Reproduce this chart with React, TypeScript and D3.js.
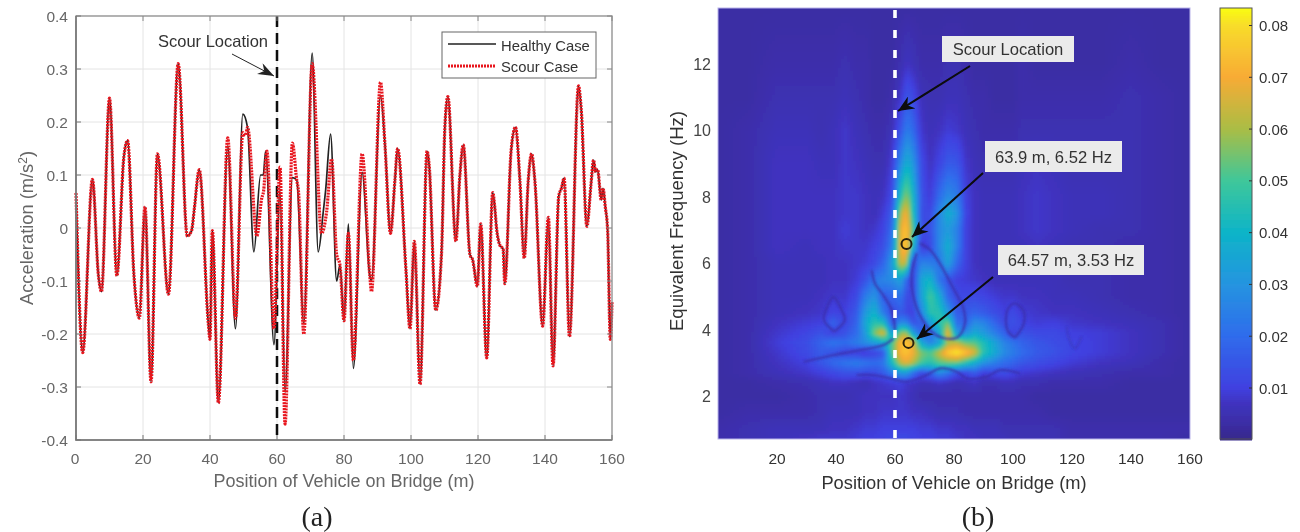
import * as d3 from "d3"

// panel (a): curve vertices, [position m, acceleration]
const sharedStart: [number, number][] = [
  [0, .066], [2, -.235], [4.9, .092], [6.7, -.09], [7.6, -.12], [10, .245], [12.2, -.09], [14.3, .135], [15.4, .165],
  [17.3, -.09], [18.9, -.17], [20.6, .04], [22.4, -.29], [24.3, .14], [27.6, -.125], [30.5, .31], [33.2, -.015],
  [34.5, -.005], [35.3, .035], [36.8, .11], [39.5, -.18], [40, -.21], [40.7, -.005], [42.5, -.33],
]
const healthyMid: [number, number][] = [
  [45.3, .155], [47.6, -.19], [49.8, .215], [51.2, .19], [53.1, -.045], [55.1, .1], [55.9, .1], [56.6, .145], [59.1, -.22],
  [60.9, .07], [62.4, -.31], [64.6, .095], [65.9, .09], [68, -.18], [70.5, .33], [72.3, -.045], [73.8, .03], [74.5, .07],
  [76, .177], [77.8, -.1], [78.8, -.07], [80, -.175], [81.3, .008], [82.8, -.265], [85.4, .105], [87.7, -.09], [88.2, -.1], [90.9, .25],
]
const scourMid: [number, number][] = [
  [45.3, .17], [47.6, -.17], [49.8, .18], [50.6, .175], [51.2, .19], [54, -.015], [55.4, .055], [56, .07], [57, .145], [59.1, -.19],
  [60.9, .115], [62.4, -.37], [64.6, .16], [65.9, .09], [66.4, .07], [68, -.2], [70.5, .31], [73.3, -.01], [74.8, .03],
  [76.3, .13], [77.8, -.05], [78.8, -.07], [80, -.175], [81.3, -.01], [82.8, -.25], [85.4, .14], [87.7, -.09], [88.2, -.12], [90.9, .275],
]
const sharedEnd: [number, number][] = [
  [92.2, .16], [93.9, -.01], [95.2, .09], [96, .15], [98.5, -.08], [99.7, -.19], [101, -.025], [102.7, -.295], [104.8, .145],
  [105.4, .12], [107.4, -.155], [109.1, -.05], [110.1, .188], [111, .248], [113.4, -.025], [114.6, .1], [115.6, .157], [117.6, -.05],
  [118.4, -.06], [119.8, -.11], [120.8, .008], [122.6, -.245], [124.4, .067], [125, .04], [125.5, .002], [126.5, -.032], [127.5, -.04],
  [128, -.105], [129.9, .147], [131.2, .19], [132.5, .09], [133.8, -.057], [135, .09], [136, .14], [137, .087], [139.3, -.185],
  [141, .02], [142.4, -.26], [144.1, .06], [144.9, .075], [145.7, .094], [147.3, -.205], [150, .268], [150.8, .225], [152.5, .003],
  [153.7, .08], [154.5, .128], [155.1, .106], [155.7, .11], [156.8, .053], [157.3, .075], [158, .04], [158.7, -.005], [159.5, -.21], [160, -.14],
]
const healthy = [...sharedStart, ...healthyMid, ...sharedEnd]
const scour = [...sharedStart, ...scourMid, ...sharedEnd]

const accTicks = [-0.4, -0.3, -0.2, -0.1, 0, 0.1, 0.2, 0.3, 0.4]
const posTicksA = [0, 20, 40, 60, 80, 100, 120, 140, 160]
const posTicksB = [20, 40, 60, 80, 100, 120, 140, 160]
const freqTicks = [2, 4, 6, 8, 10, 12]
const barTicks = [0.01, 0.02, 0.03, 0.04, 0.05, 0.06, 0.07, 0.08]

// panel (b): scalogram magnitude x1000 read by eye on a coarse grid
const gridPos = [0, 10, 20, 30, 35, 39, 43, 47, 50, 53, 56, 59, 62, 64, 66, 69, 72, 75, 78, 81, 84, 87, 90, 94, 97, 100, 103, 108, 114, 120, 130, 140, 150, 160]
const gridFreq = [13.7, 12, 11, 10, 9, 8, 7.5, 7, 6.5, 6, 5.5, 5, 4.5, 4.2, 3.9, 3.6, 3.3, 3, 2.7, 2.4, 2, 1.5, 1, 0.7]
const magnitude = [
  [3, 3, 3, 3, 3, 3, 3, 3, 3, 3, 3, 3, 3, 3, 3, 3, 3, 3, 3, 3, 3, 3, 3, 3, 3, 3, 3, 3, 3, 3, 3, 3, 3, 3],
  [3, 3, 4, 4, 4, 4, 5, 4, 4, 3, 3, 3, 5, 7, 6, 4, 4, 4, 5, 5, 4, 3, 3, 3, 3, 3, 4, 3, 3, 3, 3, 4, 3, 3],
  [3, 3, 5, 5, 5, 5, 6, 5, 4, 3, 3, 4, 8, 15, 12, 6, 5, 5, 6, 6, 5, 4, 4, 3, 3, 3, 4, 4, 4, 4, 4, 5, 4, 3],
  [3, 4, 6, 6, 5, 6, 8, 6, 5, 4, 4, 6, 15, 24, 20, 8, 6, 7, 9, 8, 6, 5, 4, 4, 4, 4, 5, 5, 5, 5, 5, 5, 4, 3],
  [3, 4, 7, 7, 6, 6, 8, 7, 6, 5, 5, 9, 28, 38, 32, 12, 7, 11, 16, 15, 8, 6, 5, 5, 5, 5, 6, 7, 6, 5, 5, 5, 4, 3],
  [3, 4, 7, 7, 7, 7, 8, 8, 7, 6, 7, 12, 46, 58, 42, 14, 9, 20, 28, 24, 10, 7, 6, 6, 6, 6, 7, 8, 7, 6, 6, 5, 4, 3],
  [3, 4, 7, 7, 7, 7, 8, 8, 7, 6, 9, 16, 62, 70, 46, 13, 12, 27, 38, 30, 11, 7, 6, 6, 6, 6, 7, 8, 7, 6, 6, 5, 4, 3],
  [3, 4, 7, 7, 7, 7, 9, 8, 7, 8, 11, 20, 70, 75, 52, 12, 14, 27, 32, 25, 10, 7, 6, 6, 6, 6, 7, 8, 7, 6, 5, 5, 4, 3],
  [3, 4, 7, 6, 7, 7, 8, 8, 8, 10, 13, 24, 72, 75, 42, 8, 12, 27, 38, 25, 10, 7, 6, 6, 6, 6, 6, 7, 6, 5, 5, 4, 4, 3],
  [3, 4, 6, 6, 6, 7, 7, 8, 9, 12, 18, 32, 66, 60, 10, 26, 24, 22, 34, 19, 10, 7, 6, 6, 6, 6, 6, 6, 6, 5, 5, 4, 4, 3],
  [3, 4, 6, 6, 6, 7, 7, 9, 14, 22, 26, 28, 34, 18, 10, 36, 40, 22, 14, 10, 9, 8, 7, 6, 6, 6, 6, 6, 6, 5, 5, 4, 4, 3],
  [3, 4, 6, 6, 7, 8, 8, 12, 24, 30, 16, 18, 22, 12, 12, 34, 50, 38, 18, 12, 12, 12, 11, 9, 8, 8, 7, 7, 6, 6, 5, 4, 4, 3],
  [3, 4, 6, 7, 8, 11, 10, 16, 32, 40, 24, 12, 16, 12, 10, 26, 46, 46, 32, 16, 16, 18, 16, 13, 10, 12, 9, 8, 7, 7, 6, 5, 4, 3],
  [3, 4, 7, 9, 10, 18, 11, 18, 36, 46, 44, 14, 28, 26, 14, 16, 32, 46, 54, 20, 18, 28, 26, 18, 12, 14, 11, 9, 10, 8, 7, 6, 5, 3],
  [3, 4, 8, 11, 14, 10, 14, 20, 32, 56, 68, 30, 58, 58, 34, 18, 20, 36, 70, 30, 28, 36, 32, 24, 18, 10, 14, 12, 12, 10, 9, 7, 5, 3],
  [3, 4, 9, 13, 18, 22, 20, 24, 28, 32, 36, 50, 74, 75, 68, 36, 26, 34, 60, 62, 54, 52, 44, 34, 26, 22, 18, 15, 13, 11, 9, 7, 5, 3],
  [3, 4, 8, 12, 16, 14, 11, 9, 8, 10, 14, 52, 73, 75, 70, 56, 52, 64, 78, 83, 76, 66, 46, 36, 28, 24, 20, 16, 14, 11, 9, 7, 5, 3],
  [3, 4, 7, 10, 15, 19, 22, 24, 22, 20, 22, 42, 64, 68, 62, 50, 46, 52, 54, 54, 46, 38, 30, 24, 20, 18, 15, 13, 11, 9, 7, 6, 4, 3],
  [3, 4, 6, 8, 10, 12, 14, 14, 13, 13, 16, 24, 32, 32, 22, 12, 18, 28, 22, 13, 12, 16, 10, 12, 13, 11, 9, 8, 7, 6, 5, 4, 4, 3],
  [3, 3, 4, 5, 6, 7, 7, 6, 5, 7, 8, 9, 10, 8, 7, 6, 6, 7, 6, 5, 6, 7, 5, 5, 6, 6, 5, 5, 4, 4, 4, 3, 3, 3],
  [3, 3, 3, 4, 5, 5, 5, 6, 7, 7, 7, 7, 8, 7, 6, 4, 4, 4, 4, 4, 4, 4, 4, 4, 4, 4, 4, 3, 3, 3, 3, 3, 3, 3],
  [3, 4, 4, 4, 5, 6, 6, 6, 7, 7, 8, 8, 8, 8, 7, 7, 6, 5, 5, 5, 4, 4, 4, 4, 4, 4, 4, 4, 3, 3, 3, 3, 3, 3],
  [4, 5, 6, 6, 6, 7, 7, 8, 9, 9, 10, 10, 10, 10, 10, 9, 9, 8, 8, 7, 7, 6, 6, 6, 5, 5, 5, 5, 5, 4, 4, 4, 4, 4],
  [4, 5, 6, 7, 8, 8, 8, 9, 10, 10, 11, 12, 12, 12, 11, 10, 10, 9, 9, 8, 7, 7, 6, 6, 6, 5, 5, 5, 5, 4, 4, 4, 4, 3],
]

// dark zero-magnitude seams in the scalogram, [m, Hz]
const seams: [number, number][][] = [
  [[52.1, 5.79], [53.2, 5.39], [56, 5.04], [58.9, 4.59], [60, 3.99]],
  [[67.4, 6.3], [65.7, 5.7], [66.2, 5], [69, 4.34], [73, 3.89], [78.1, 3.72], [81.5, 3.79], [83.7, 4.19], [83.2, 4.64], [79.8, 5.24], [75.2, 5.99], [71.9, 6.4], [68.5, 6.6]],
  [[29, 3.03], [39.1, 3.23], [48.1, 3.38], [56, 3.53], [59.4, 3.73]],
  [[47, 2.63], [52.7, 2.63], [58.3, 2.53], [64, 2.43], [70.7, 2.63], [75.2, 2.83], [80.9, 2.73], [84.3, 2.53], [91, 2.58], [95.6, 2.78], [102.4, 2.68]],
  [[39.4, 3.94], [35.9, 4.29], [36.6, 4.59], [39.1, 4.99], [41.9, 4.59], [43, 4.29], [39.4, 3.94]],
  [[100.7, 3.76], [98.4, 3.94], [97.6, 4.29], [98.4, 4.64], [100.7, 4.79], [103.7, 4.54], [103.5, 4.14], [100.7, 3.76]],
  [[118.2, 4.09], [118.8, 3.79], [121, 3.43], [123.3, 3.8]],
]

const markerPoints: [number, number][] = [[63.9, 6.58], [64.57, 3.6]]

// colours picked from the colorbar
const barValues = [0, 3, 7, 10, 20, 30, 40, 50, 60, 70, 80, 83]
const barColors = ["#37298a", "#3b2da4", "#3f33bf", "#4040e0", "#2f6cec", "#2594e0", "#0db4c8", "#3fc79a", "#aabd45", "#f8ab35", "#f8dc2b", "#f9fa14"]

const font = "'Liberation Sans', Arial, sans-serif"

const xA = d3.scaleLinear([0, 160], [76, 612])
const yA = d3.scaleLinear([-0.4, 0.4], [440, 16])
const xB = d3.scaleLinear([0, 160], [718, 1190])
const yB = d3.scaleLinear([2, 12], [396, 64])
const yBar = d3.scaleLinear([0.01, 0.08], [388, 25.5])
const color = d3.scaleLinear<string>(barValues, barColors).interpolate(d3.interpolateRgb)

const colIndex = d3.scaleLinear(gridPos, gridPos.map((_, i) => i))
const rowIndex = d3.scaleLinear(gridFreq, gridFreq.map((_, i) => i))

function sample(pos: number, freq: number) {
  const c = Math.min(colIndex(pos), gridPos.length - 1.001)
  const r = Math.max(0, Math.min(rowIndex(freq), gridFreq.length - 1.001))
  const c0 = Math.floor(c), r0 = Math.floor(r)
  const top = d3.interpolateNumber(magnitude[r0][c0], magnitude[r0][c0 + 1])(c - c0)
  const bottom = d3.interpolateNumber(magnitude[r0 + 1][c0], magnitude[r0 + 1][c0 + 1])(c - c0)
  return d3.interpolateNumber(top, bottom)(r - r0)
}

const cells: { x: number; y: number; fill: string }[] = []
for (let px = 718; px < 1190; px += 3) {
  for (let py = 8; py < 439; py += 3) {
    cells.push({ x: px, y: py, fill: color(sample(xB.invert(px + 1.5), yB.invert(py + 1.5))) })
  }
}
const barRows = d3.range(8, 439, 2)

const curve = d3.line<[number, number]>(d => xA(d[0]), d => yA(d[1])).curve(d3.curveMonotoneX)
const seamLine = d3.line<[number, number]>(d => xB(d[0]), d => yB(d[1])).curve(d3.curveCatmullRom)

function Callout({ x, y, w, h, text }: { x: number; y: number; w: number; h: number; text: string }) {
  return (
    <g>
      <rect x={x} y={y} width={w} height={h} fill="#ebebeb" />
      <text x={x + w / 2} y={y + h / 2 + 6} textAnchor="middle" fontSize={16.6} fill="#333">{text}</text>
    </g>
  )
}

export default function App() {
  return (
    <svg width={1300} height={532} style={{ position: "absolute", left: 0, top: 0, background: "#fff" }} fontFamily={font}>
      <defs>
        <filter id="soft" x="0" y="0" width="1300" height="532" filterUnits="userSpaceOnUse">
          <feGaussianBlur stdDeviation="0.5" />
        </filter>
        <filter id="heatBlur" x="700" y="0" width="510" height="450" filterUnits="userSpaceOnUse">
          <feGaussianBlur stdDeviation="1.7" />
        </filter>
        <filter id="seamBlur" x="700" y="0" width="510" height="450" filterUnits="userSpaceOnUse">
          <feGaussianBlur stdDeviation="0.9" />
        </filter>
        <clipPath id="heatClip"><rect x={718} y={8} width={472} height={431} /></clipPath>
        <marker id="headK" markerUnits="userSpaceOnUse" markerWidth={18} markerHeight={14} refX={16} refY={7} orient="auto">
          <path d="M0,0 L16,7 L0,14 L5,7 Z" fill="#0a0a0a" />
        </marker>
        <marker id="headA" markerUnits="userSpaceOnUse" markerWidth={18} markerHeight={14} refX={16} refY={6} orient="auto">
          <path d="M0,0 L16,6 L0,12 L5,6 Z" fill="#222" />
        </marker>
      </defs>

      <g filter="url(#soft)">
        {/* panel a */}
        {posTicksA.slice(1, -1).map(t => (
          <line key={t} x1={xA(t)} x2={xA(t)} y1={16} y2={440} stroke="#e4e4e4" />
        ))}
        {accTicks.slice(1, -1).map(t => (
          <line key={t} x1={76} x2={612} y1={yA(t)} y2={yA(t)} stroke="#e4e4e4" />
        ))}
        <line x1={xA(60)} x2={xA(60)} y1={16} y2={440} stroke="#111" strokeWidth={2.5} strokeDasharray="11 6" />
        <path d={curve(healthy) ?? ""} fill="none" stroke="#222" strokeWidth={1.7} />
        <path d={curve(scour) ?? ""} fill="none" stroke="#e8141f" strokeWidth={3.2} strokeDasharray="2 1" />
        <rect x={76} y={16} width={536} height={424} fill="none" stroke="#8a8a8a" strokeWidth={1.3} />
        <path d="M76,16 V440 H612" fill="none" stroke="#777" strokeWidth={1.6} />
        {posTicksA.map(t => (
          <g key={t}>
            <line x1={xA(t)} x2={xA(t)} y1={440} y2={435} stroke="#777" />
            <line x1={xA(t)} x2={xA(t)} y1={16} y2={21} stroke="#888" />
            <text x={xA(t) - (t === 0 ? 1 : 0)} y={464} textAnchor="middle" fontSize={15.5} fill="#666">{t}</text>
          </g>
        ))}
        {accTicks.map(t => (
          <g key={t}>
            <line x1={76} x2={81} y1={yA(t)} y2={yA(t)} stroke="#777" />
            <line x1={612} x2={607} y1={yA(t)} y2={yA(t)} stroke="#888" />
            <text x={68} y={yA(t) + 6} textAnchor="end" fontSize={15.5} fill="#666">{t === 0 ? "0" : t.toFixed(1)}</text>
          </g>
        ))}
        <text x={344} y={487} textAnchor="middle" fontSize={18} fill="#666">Position of Vehicle on Bridge (m)</text>
        <text transform="translate(33,228) rotate(-90)" textAnchor="middle" fontSize={18.3} fill="#666">
          Acceleration (m/s<tspan dy={-6} fontSize={12}>2</tspan><tspan dy={6}>)</tspan>
        </text>
        <text x={213} y={47} textAnchor="middle" fontSize={16.5} fill="#333">Scour Location</text>
        <line x1={232} y1={54} x2={274} y2={76} stroke="#222" strokeWidth={1} markerEnd="url(#headA)" />

        <rect x={442} y={32} width={154} height={46} fill="#fff" stroke="#666" />
        <line x1={448} x2={496} y1={44} y2={44} stroke="#222" strokeWidth={1.5} />
        <line x1={448} x2={496} y1={66} y2={66} stroke="#e8141f" strokeWidth={3.2} strokeDasharray="2 1" />
        <text x={501} y={51} fontSize={14.8} fill="#333">Healthy Case</text>
        <text x={501} y={72} fontSize={14.8} fill="#333">Scour Case</text>

        <text x={317} y={526} textAnchor="middle" fontSize={28} fontFamily="'Liberation Serif', serif" fill="#222">(a)</text>

        {/* panel b */}
        <g clipPath="url(#heatClip)">
          <g filter="url(#heatBlur)">
            <rect x={700} y={0} width={510} height={450} fill={color(3)} />
            {cells.map((c, i) => (
              <rect key={i} x={c.x} y={c.y} width={3.5} height={3.5} fill={c.fill} />
            ))}
          </g>
          <g filter="url(#seamBlur)">
            {seams.map((s, i) => (
              <path key={i} d={seamLine(s) ?? ""} fill="none" stroke="#3a2da8" strokeOpacity={i === 6 ? 0.4 : 0.75} strokeWidth={2.4} />
            ))}
          </g>
        </g>
        <rect x={718} y={8} width={472} height={431} fill="none" stroke="#b9b4ea" strokeWidth={1} />
        <line x1={xB(60)} x2={xB(60)} y1={10} y2={439} stroke="#fff" strokeWidth={3.6} strokeDasharray="8 12" />
        {markerPoints.map((p, i) => (
          <circle key={i} cx={xB(p[0])} cy={yB(p[1])} r={5} fill="none" stroke="#2a2210" strokeWidth={2} />
        ))}
        <line x1={970} y1={66} x2={898} y2={111} stroke="#0a0a0a" strokeWidth={2} markerEnd="url(#headK)" />
        <line x1={983} y1={173} x2={912} y2={237} stroke="#0a0a0a" strokeWidth={2} markerEnd="url(#headK)" />
        <line x1={993} y1={277} x2={917} y2={339} stroke="#0a0a0a" strokeWidth={2} markerEnd="url(#headK)" />
        <Callout x={942} y={36} w={132} h={26} text="Scour Location" />
        <Callout x={985} y={141} w={137} h={31} text="63.9 m, 6.52 Hz" />
        <Callout x={998} y={245} w={146} h={30} text="64.57 m, 3.53 Hz" />

        {posTicksB.map(t => (
          <text key={t} x={xB(t)} y={464} textAnchor="middle" fontSize={15.5} fill="#333">{t}</text>
        ))}
        {freqTicks.map(t => (
          <text key={t} x={711} y={yB(t) + 6} textAnchor="end" fontSize={16} fill="#444">{t}</text>
        ))}
        <text x={954} y={489} textAnchor="middle" fontSize={18.3} fill="#333">Position of Vehicle on Bridge (m)</text>
        <text transform="translate(683,221) rotate(-90)" textAnchor="middle" fontSize={18.6} fill="#333">Equivalent Frequency (Hz)</text>
        <text x={978} y={526} textAnchor="middle" fontSize={28} fontFamily="'Liberation Serif', serif" fill="#222">(b)</text>

        {/* colorbar */}
        {barRows.map(py => (
          <rect key={py} x={1220} y={py} width={32} height={2.5} fill={color(yBar.invert(py + 1) * 1000)} />
        ))}
        <rect x={1220} y={8} width={32} height={431} fill="none" stroke="#555" strokeWidth={1} />
        {barTicks.map(t => (
          <g key={t}>
            <line x1={1249} x2={1252} y1={yBar(t)} y2={yBar(t)} stroke="#333" />
            <text x={1259} y={yBar(t) + 5.5} fontSize={15} fill="#333">{t.toFixed(2)}</text>
          </g>
        ))}
      </g>
    </svg>
  )
}
